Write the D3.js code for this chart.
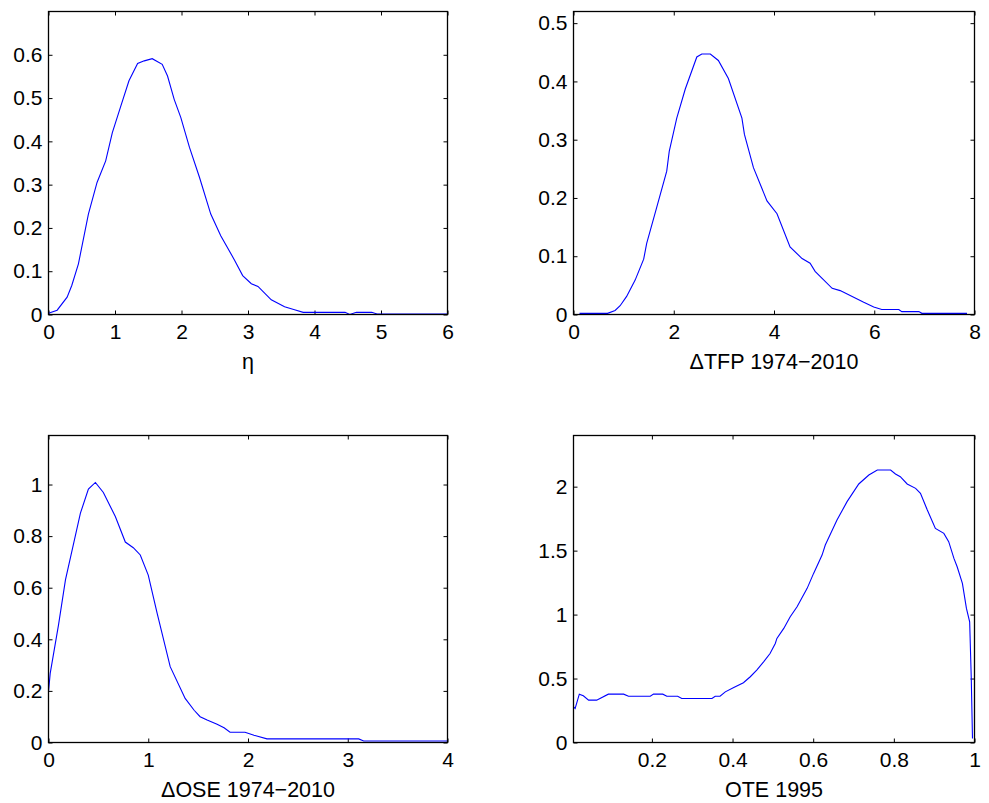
<!DOCTYPE html>
<html>
    <head>
        <meta charset="utf-8">
        <title>Posterior densities</title>
        <script src="https://d3js.org/d3.v7.min.js"></script>
    </head>
    <style>
        body { margin: 0; background: #fff; }
        svg text { font-family: "Liberation Sans", Arial, Helvetica, sans-serif; fill: #000; }
    </style>
    <body>
        <div id="my_dataviz"></div>

        <script>
            // eta
            var etaX = [0, 0.13, 0.28, 0.35, 0.45, 0.6, 0.73, 0.86, 0.96, 1.08, 1.21, 1.34, 1.44, 1.56, 1.71, 1.79, 1.89, 1.99,
                        2.12, 2.27, 2.44, 2.59, 2.8, 2.92, 3.05, 3.15, 3.35, 3.55, 3.7, 3.83, 4.46, 4.53, 4.63, 4.86, 4.94, 6];
            var etaY = [0.003, 0.01, 0.04, 0.067, 0.117, 0.232, 0.305, 0.355, 0.42, 0.478, 0.54, 0.58, 0.586, 0.591, 0.578, 0.551, 0.497, 0.455,
                        0.386, 0.317, 0.232, 0.182, 0.125, 0.09, 0.071, 0.065, 0.034, 0.018, 0.011, 0.005, 0.005, 0.0, 0.005, 0.005, 0.001, 0.001];

            // delta TFP
            var tfpX = [0.12, 0.68, 0.83, 0.93, 1.06, 1.23, 1.4, 1.46, 1.66, 1.86, 1.91, 2.06, 2.23, 2.46, 2.56, 2.73, 2.89, 3.09, 3.36, 3.41,
                        3.59, 3.86, 4.06, 4.32, 4.56, 4.72, 4.82, 5.16, 5.32, 5.79, 5.99, 6.15, 6.49, 6.55, 6.89, 6.95, 7.85];
            var tfpY = [0.002, 0.002, 0.007, 0.015, 0.031, 0.059, 0.095, 0.122, 0.184, 0.246, 0.28, 0.337, 0.387, 0.442, 0.447, 0.447, 0.436, 0.405, 0.337, 0.309,
                        0.252, 0.195, 0.173, 0.116, 0.096, 0.088, 0.074, 0.045, 0.041, 0.021, 0.013, 0.0085, 0.0085, 0.005, 0.005, 0.002, 0.002];

            // delta OSE
            var oseX = [0, 0.017, 0.1, 0.17, 0.32, 0.4, 0.47, 0.55, 0.67, 0.77, 0.85, 0.92, 1.0, 1.09, 1.22, 1.37, 1.46, 1.52, 1.59, 1.69,
                        1.76, 1.82, 1.97, 2.06, 2.19, 3.11, 3.16, 4.0];
            var oseY = [0.197, 0.268, 0.455, 0.63, 0.889, 0.982, 1.008, 0.969, 0.876, 0.777, 0.755, 0.727, 0.649, 0.5, 0.294, 0.171, 0.125, 0.1, 0.087, 0.071,
                        0.057, 0.04, 0.04, 0.028, 0.014, 0.014, 0.006, 0.006];

            // OTE 1995
            var oteX = [0.0056, 0.0097, 0.02, 0.03, 0.043, 0.063, 0.092, 0.13, 0.142, 0.196, 0.204, 0.227, 0.237, 0.264, 0.274, 0.349, 0.357, 0.369,
                        0.382, 0.403, 0.427, 0.444, 0.46, 0.477, 0.493, 0.506, 0.51, 0.527, 0.543, 0.56, 0.585, 0.601, 0.622, 0.63, 0.659, 0.684,
                        0.713, 0.738, 0.759, 0.792, 0.804, 0.816, 0.833, 0.854, 0.866, 0.883, 0.903, 0.924, 0.936, 0.949, 0.957, 0.97, 0.98, 0.988,
                        0.992, 0.995];
            var oteY = [0.279, 0.266, 0.378, 0.365, 0.331, 0.331, 0.378, 0.378, 0.362, 0.362, 0.378, 0.378, 0.362, 0.362, 0.344, 0.344, 0.362, 0.362,
                        0.396, 0.43, 0.467, 0.514, 0.566, 0.631, 0.696, 0.774, 0.814, 0.892, 0.983, 1.061, 1.205, 1.322, 1.465, 1.544, 1.739, 1.883,
                        2.021, 2.091, 2.13, 2.13, 2.099, 2.078, 2.021, 1.987, 1.948, 1.817, 1.674, 1.635, 1.57, 1.439, 1.374, 1.244, 1.048, 0.944,
                        0.5, 0.031];

            // tick labels
            var etaXTicks = [0, 1, 2, 3, 4, 5, 6];
            var etaYTicks = [0, 0.1, 0.2, 0.3, 0.4, 0.5, 0.6];
            var tfpXTicks = [0, 2, 4, 6, 8];
            var tfpYTicks = [0, 0.1, 0.2, 0.3, 0.4, 0.5];
            var oseXTicks = [0, 1, 2, 3, 4];
            var oseYTicks = [0, 0.2, 0.4, 0.6, 0.8, 1];
            var oteXTicks = [0.2, 0.4, 0.6, 0.8, 1];
            var oteYTicks = [0, 0.5, 1, 1.5, 2];

            var svg = d3.select("#my_dataviz")
                .append("svg")
                .attr("width", 989)
                .attr("height", 803);

            var fmt = function(d) { return String(+d.toFixed(2)); };

            function createPanel(box, xs, ys, xDomain, yDomain, xTicks, yTicks, label)
            {
                var width = box.right - box.left,
                    height = box.bottom - box.top;

                var g = svg.append("g")
                    .attr("transform", "translate(" + box.left + "," + box.top + ")");

                var x = d3.scaleLinear().domain(xDomain).range([0, width]);
                var y = d3.scaleLinear().domain(yDomain).range([height, 0]);

                // ticks point inward on all four sides, like matlab's box on
                g.append("g")
                    .attr("transform", "translate(0," + height + ")")
                    .call(d3.axisBottom(x).tickValues(xTicks).tickFormat(fmt).tickSize(-4).tickSizeOuter(0).tickPadding(10));
                g.append("g")
                    .call(d3.axisTop(x).tickValues(xTicks).tickFormat("").tickSize(-4).tickSizeOuter(0));
                g.append("g")
                    .call(d3.axisLeft(y).tickValues(yTicks).tickFormat(fmt).tickSize(-4).tickSizeOuter(0).tickPadding(6));
                g.append("g")
                    .attr("transform", "translate(" + width + ",0)")
                    .call(d3.axisRight(y).tickValues(yTicks).tickFormat("").tickSize(-4).tickSizeOuter(0));

                g.selectAll(".domain").remove();
                g.selectAll(".tick line").attr("stroke", "#000");
                g.selectAll(".tick text").attr("font-size", "21px").attr("font-family", null);

                // the line
                var pts = xs.map(function(d, i) { return [d, ys[i]]; });
                g.append("path")
                    .datum(pts)
                    .attr("fill", "none")
                    .attr("stroke", "#0000ff")
                    .attr("stroke-width", 1.1)
                    .attr("d", d3.line()
                        .x(function(d) { return x(d[0]); })
                        .y(function(d) { return y(d[1]); })
                        );

                // frame
                g.append("rect")
                    .attr("x", 0)
                    .attr("y", 0)
                    .attr("width", width)
                    .attr("height", height)
                    .attr("fill", "none")
                    .attr("stroke", "#000")
                    .attr("stroke-width", 1.3);

                g.append("text")
                    .attr("x", width / 2)
                    .attr("y", height + 54)
                    .attr("text-anchor", "middle")
                    .attr("font-size", "21.5px")
                    .text(label);
            }

            createPanel({left: 48.5, right: 447.5, top: 11.5, bottom: 314.5}, etaX, etaY, [0, 6], [0, 0.7], etaXTicks, etaYTicks, "η");
            createPanel({left: 573.5, right: 974.5, top: 11.5, bottom: 314.5}, tfpX, tfpY, [0, 8], [0, 0.52], tfpXTicks, tfpYTicks, "ΔTFP 1974−2010");
            createPanel({left: 48.5, right: 447.5, top: 435.5, bottom: 742.5}, oseX, oseY, [0, 4], [0, 1.19], oseXTicks, oseYTicks, "ΔOSE 1974−2010");
            createPanel({left: 573.5, right: 974.5, top: 435.5, bottom: 742.5}, oteX, oteY, [0.0056, 1], [0, 2.4], oteXTicks, oteYTicks, "OTE 1995");
        </script>
    </body>
</html>
